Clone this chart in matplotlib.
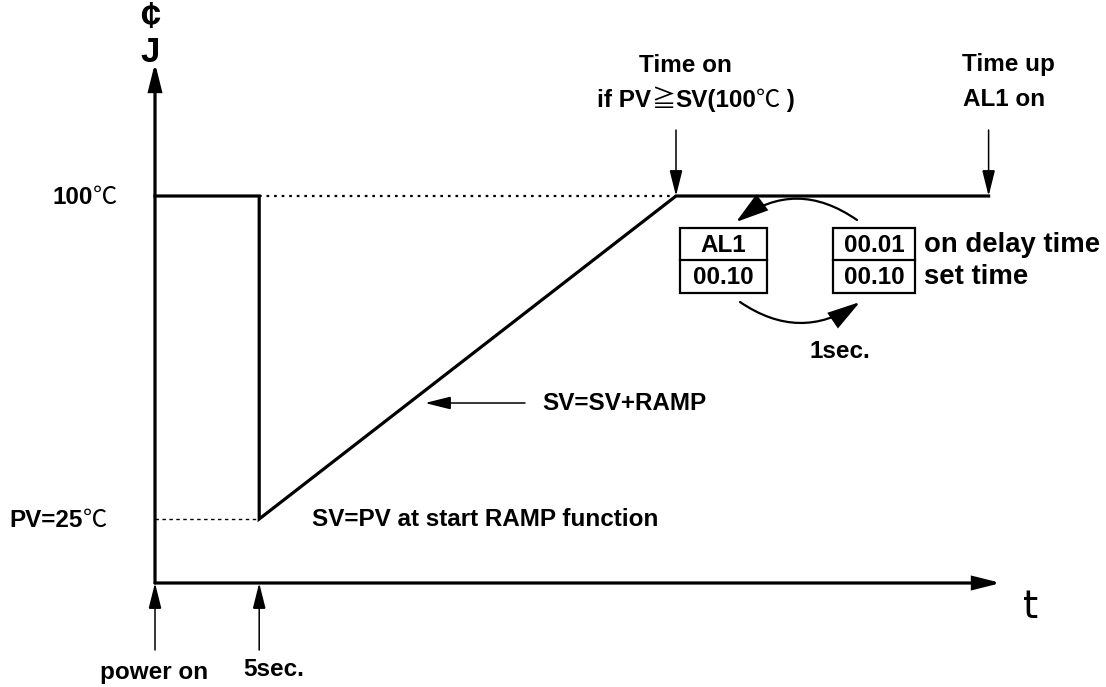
import matplotlib
matplotlib.use("Agg")
import matplotlib.pyplot as plt
from matplotlib.patches import FancyArrowPatch, Rectangle
from matplotlib.offsetbox import TextArea, HPacker, AnnotationBbox

# ---- data (time in s, temperature in degC) ----
profile_t = [0, 5, 5, 25, 40]
profile_T = [100, 100, 25, 100, 100]
sv_target = 100
pv_start = 25
power_on_t = 0
ramp_start_t = 5
time_on_t = 25
time_up_t = 40
box_left = ["AL1", "00.10"]
box_right = ["00.01", "00.10"]
box_right_labels = ["on delay time", "set time"]

FONT = ["Liberation Sans", "Noto Sans CJK SC", "DejaVu Sans"]
plt.rcParams["font.family"] = FONT

W, H = 1106, 687
fig = plt.figure(figsize=(W / 100, H / 100), dpi=100)
ax = fig.add_axes([0, 0, 1, 1])
ax.axis("off")

# pixel <-> data mapping for the canvas
X0, SX = 155.0, 20.84
Y100, Y25 = 196.0, 519.0
SY = (Y25 - Y100) / 75.0


def d(xp, yp):
    return ((xp - X0) / SX, 100 - (yp - Y100) / SY)


ax.set_xlim(d(0, 0)[0], d(W, 0)[0])
ax.set_ylim(d(0, H)[1], d(0, 0)[1])

axis_T = d(0, 583)[1]
axis_top = d(0, 63)[1]
axis_right = d(1001, 0)[0]

LW = 2.3
FS = 17.5


def arrow(p0, p1, lw=1.1, hl=20, hw=10, **kw):
    ms = 1 / 1.389
    a = FancyArrowPatch(p0, p1, arrowstyle=f"-|>,head_length={hl*ms},head_width={hw*ms/2}",
                        mutation_scale=1, lw=lw, color="black", shrinkA=0, shrinkB=0,
                        joinstyle="miter", **kw)
    ax.add_patch(a)


bold = dict(fontweight="bold", fontsize=FS, color="black")
sym = dict(family="Noto Sans CJK SC", fontweight="normal", fontsize=FS, color="black")


def rich(xy, parts, align=(0.5, 0.5)):
    children = [TextArea(s, textprops=(sym if k == "s" else bold)) for s, k in parts]
    pack = HPacker(children=children, align="baseline", pad=0, sep=0)
    ab = AnnotationBbox(pack, xy, box_alignment=align, frameon=False, pad=0)
    ax.add_artist(ab)


# axes
arrow((0, axis_T), (0, axis_top), lw=LW, hl=22, hw=11)
arrow((0, axis_T), (axis_right, axis_T), lw=LW, hl=22, hw=11)

# profile line
ax.plot(profile_t, profile_T, color="black", lw=LW, solid_joinstyle="miter")
# dotted guides
ax.plot([ramp_start_t, time_on_t], [sv_target, sv_target], color="black", lw=1.6, ls=(0, (1.2, 2.2)))
ax.plot([power_on_t, ramp_start_t], [pv_start, pv_start], color="black", lw=1.0, ls=(0, (2.5, 2.5)))

# y labels
rich(d(117, 197), [("100", "b"), ("℃", "s")], align=(1, 0.5))
rich(d(107, 520), [("PV=25", "b"), ("℃", "s")], align=(1, 0.5))
ax.text(*d(150, 18), "¢", ha="center", va="center", fontsize=26, fontweight="bold")
ax.text(*d(150, 52), "J", ha="center", va="center", fontsize=25, fontweight="bold")
ax.text(*d(1031, 607), "t", ha="center", va="center", fontsize=28, family="DejaVu Sans")

# bottom up-arrows
for tt in [power_on_t, ramp_start_t]:
    arrow((tt, d(0, 650)[1]), (tt, axis_T), lw=1.1, hl=22, hw=11)
ax.text(*d(154, 672), "power on", ha="center", va="center", **bold)
ax.text(*d(243, 670), "5sec.", ha="left", va="center", **bold)

# top down-arrows
for tt in [time_on_t, time_up_t]:
    arrow((tt, d(0, 130)[1]), (tt, sv_target), lw=1.1, hl=22, hw=11)
ax.text(*d(685, 65), "Time on", ha="center", va="center", **bold)
rich(d(696, 100), [("if PV", "b"), ("≧", "s"), ("SV(100", "b"), ("℃", "s"), (" )", "b")])
ax.text(*d(1008, 65), "Time up", ha="center", va="center", **bold)
ax.text(*d(1004, 100), "AL1 on", ha="center", va="center", **bold)

# ramp annotation
arrow(d(525, 403), d(425, 403), lw=1.1, hl=22, hw=11)
ax.text(*d(542, 404), "SV=SV+RAMP", ha="left", va="center", **bold)
ax.text(*d(312, 520), "SV=PV at start RAMP function", ha="left", va="center", **bold)


# boxes
def box(x0, x1, y0, y1, texts):
    ym = (y0 + y1) / 2
    (a0, b0), (a1, b1) = d(x0, y1), d(x1, y0)
    ax.add_patch(Rectangle((a0, b0), a1 - a0, b1 - b0, fill=False, lw=1.6, ec="black"))
    ax.plot([a0, a1], [d(0, ym)[1]] * 2, color="black", lw=1.6)
    for txt, yc in zip(texts, [(y0 + ym) / 2, (ym + y1) / 2]):
        ax.text(*d((x0 + x1) / 2, yc + 1), txt, ha="center", va="center", **bold)


box(680, 767, 228, 293, box_left)
box(833, 915, 228, 293, box_right)
lab = dict(bold, fontsize=19.8)
ax.text(*d(924, 245), box_right_labels[0], ha="left", va="center", **lab)
ax.text(*d(924, 277), box_right_labels[1], ha="left", va="center", **lab)

# curved arrows
arrow(d(857, 220), d(736, 222), lw=1.6, hl=28, hw=17, connectionstyle="arc3,rad=0.36")
arrow(d(740, 302), d(860, 302), lw=1.6, hl=28, hw=16, connectionstyle="arc3,rad=0.34")
ax.text(*d(840, 352), "1sec.", ha="center", va="center", **bold)

fig.savefig("out.png", dpi=100)
